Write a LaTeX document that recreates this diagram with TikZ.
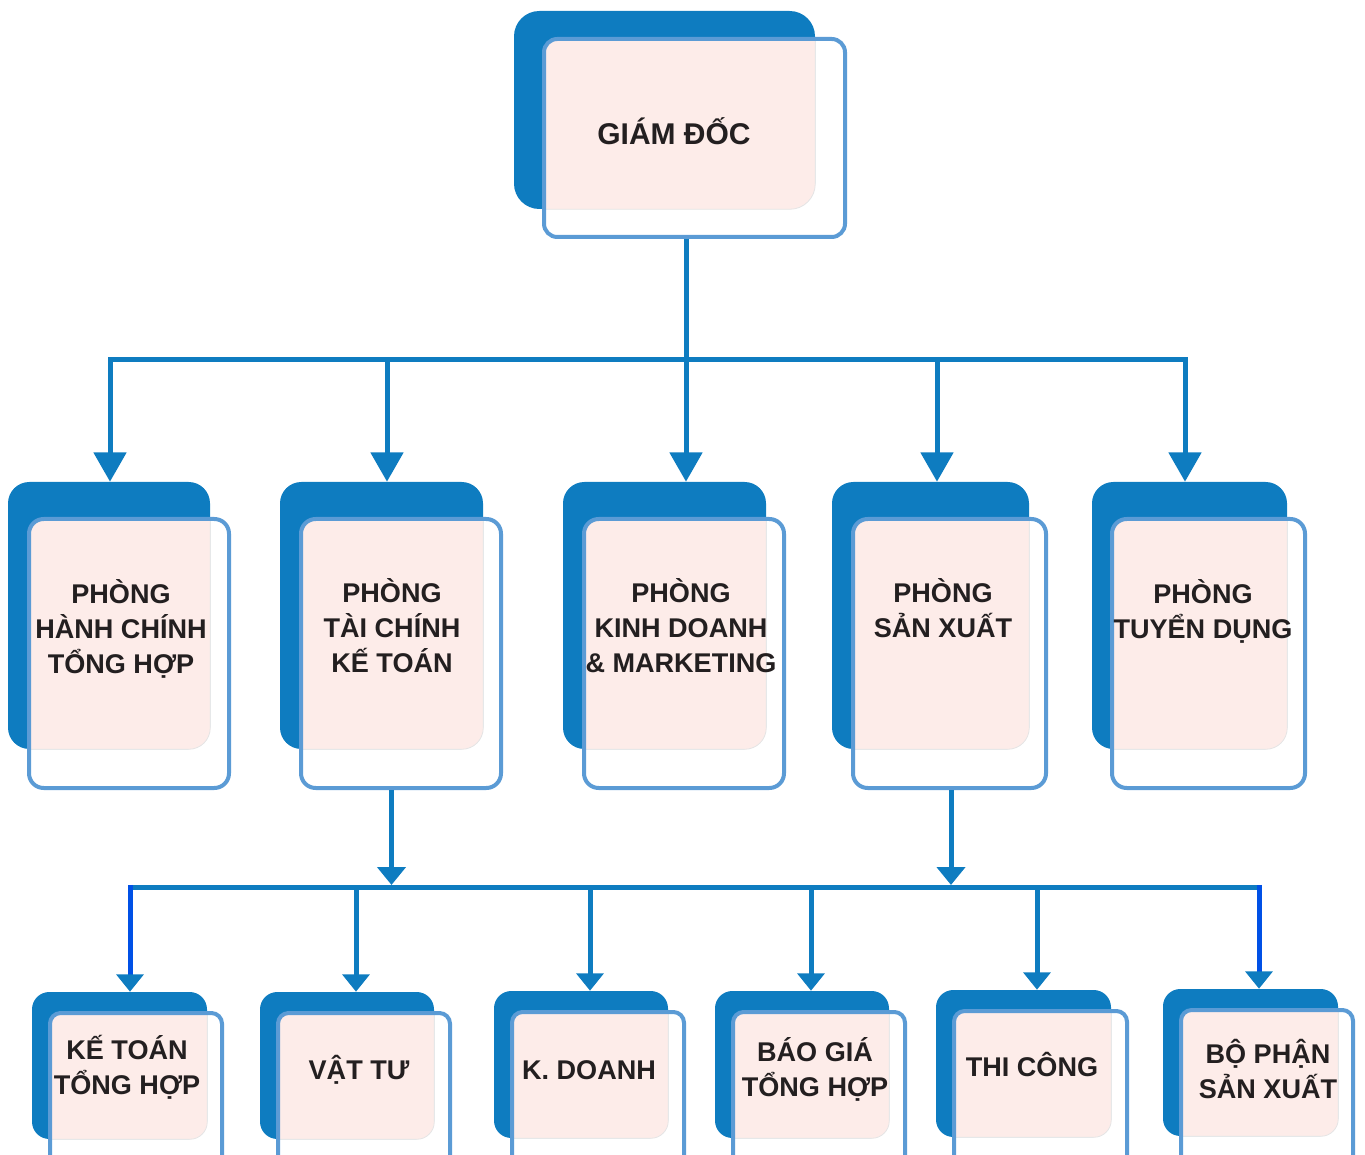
\documentclass[tikz,border=0pt]{standalone}
\usepackage{fontspec}
\setmainfont{Liberation Sans}
\usepackage{xcolor}
\usepackage{tikz}
\usetikzlibrary{arrows.meta,positioning,fit}
\definecolor{orgBlue}{RGB}{14,124,192}
\definecolor{orgBlueBright}{RGB}{0,80,230}
\definecolor{orgFrame}{RGB}{91,155,213}
\definecolor{orgPink}{RGB}{253,236,233}
\definecolor{orgText}{RGB}{35,31,32}
\tikzset{
  backcard/.style={fill=orgBlue, inner sep=0pt},
  framecard/.style={draw=orgFrame, line width=3pt, inner sep=0pt},
  cardtext/.style={text=orgText, font=\bfseries\fontsize{20.3}{26.25}\selectfont, align=center, inner sep=0pt},
  link/.style={draw=orgBlue, line width=3.75pt},
  bigtip/.style={-{Triangle[width=24pt,length=22pt]}},
  midtip/.style={-{Triangle[width=21pt,length=13.5pt]}},
  smalltip/.style={-{Triangle[width=20pt,length=13pt,color=orgBlue]}},
}
% card: name, back corners, frame corners, back radius, frame radius
\newcommand{\orgcard}[7]{%
  \node[backcard, rounded corners=#6, fit={#2 #3}] (#1-back) {};
  \begin{scope}
    \clip[rounded corners=#7] #4 rectangle #5;
    \fill[orgPink, draw=black!10, line width=0.6pt, rounded corners=#6] (#1-back.north west) rectangle (#1-back.south east);
  \end{scope}
  \node[framecard, rounded corners=#7, fit={#4 #5}] (#1) {};
}
\begin{document}
\begin{tikzpicture}[x=0.75pt,y=-0.75pt]
\useasboundingbox (0,0) rectangle (1365,1155);

% top
\orgcard{gd}{(514,11)}{(815,209)}{(544,39)}{(845,237)}{19pt}{10pt}
\node[cardtext, font=\bfseries\fontsize{22.5}{27}\selectfont] (gd-text) at (674,131) {GIÁM ĐỐC};

% departments
\orgcard{hc}{(8,482)}{(210,749)}{(29,519)}{(229,788)}{16pt}{11pt}
\orgcard{tc}{(280,482)}{(483,749)}{(301,519)}{(501,788)}{16pt}{11pt}
\orgcard{kd}{(563,482)}{(766,749)}{(584,519)}{(784,788)}{16pt}{11pt}
\orgcard{sx}{(832,482)}{(1029,749)}{(853,519)}{(1046,788)}{16pt}{11pt}
\orgcard{td}{(1092,482)}{(1287,749)}{(1112,519)}{(1305,788)}{16pt}{11pt}
\node[cardtext] (hc-text) at (121,629) {PHÒNG\\HÀNH CHÍNH\\TỔNG HỢP};
\node[cardtext] (tc-text) at (392,626) {PHÒNG\\TÀI CHÍNH\\KẾ TOÁN};
\node[cardtext] (kd-text) at (681,626) {PHÒNG\\KINH DOANH\\\& MARKETING};
\node[cardtext] (sx-text) at (943,608) {PHÒNG\\SẢN XUẤT};
\node[cardtext] (td-text) at (1203,611) {PHÒNG\\TUYỂN DỤNG};

% teams
\orgcard{kt}{(32,992)}{(207,1139)}{(50,1013)}{(222,1175)}{13pt}{8pt}
\orgcard{vt}{(260,992)}{(434,1139)}{(278,1013)}{(450,1175)}{13pt}{8pt}
\orgcard{kdo}{(494,991)}{(668,1138)}{(512,1012)}{(684,1175)}{13pt}{8pt}
\orgcard{bg}{(715,991)}{(889,1138)}{(733,1012)}{(905,1175)}{13pt}{8pt}
\orgcard{tcg}{(936,990)}{(1111,1137)}{(954,1011)}{(1127,1175)}{13pt}{8pt}
\orgcard{bp}{(1163,989)}{(1338,1136)}{(1181,1010)}{(1353,1175)}{13pt}{8pt}
\node[cardtext] (kt-text) at (127,1067) {KẾ TOÁN\\TỔNG HỢP};
\node[cardtext] (vt-text) at (359,1070) {VẬT TƯ};
\node[cardtext] (kdo-text) at (589,1070) {K. DOANH};
\node[cardtext] (bg-text) at (815,1069) {BÁO GIÁ\\TỔNG HỢP};
\node[cardtext] (tcg-text) at (1032,1065) {THI CÔNG};
\node[cardtext] (bp-text) at (1268,1069) {BỘ PHẬN\\SẢN XUẤT};

% links to departments
\coordinate (j-hc) at (110,360);
\coordinate (j-tc) at (387,360);
\coordinate (j-kd) at (686,360);
\coordinate (j-sx) at (937,360);
\coordinate (j-td) at (1185,360);
\draw[link] (gd.south -| j-kd) -- (j-kd);
\draw[link, line cap=rect] (j-hc) -- (j-td);
\foreach \n in {hc,tc,kd,sx,td}
  \draw[link, bigtip] (j-\n) -- (j-\n |- \n-back.north);

% links to teams
\coordinate (m-tc) at (391.5,885);
\coordinate (m-sx) at (951,885);
\draw[link, midtip] (tc.south -| m-tc) -- (m-tc);
\draw[link, midtip] (sx.south -| m-sx) -- (m-sx);
\coordinate (k-kt) at (130,887.5);
\coordinate (k-vt) at (356,887.5);
\coordinate (k-kdo) at (590,887.5);
\coordinate (k-bg) at (811,887.5);
\coordinate (k-tcg) at (1037,887.5);
\coordinate (k-bp) at (1259,887.5);
\draw[link, line cap=rect] (k-kt) -- (k-bp);
\foreach \n in {vt,kdo,bg,tcg}
  \draw[link, smalltip] (k-\n) -- (k-\n |- \n-back.north);
\foreach \n in {kt,bp}
  \draw[link, draw=orgBlueBright, smalltip] ([yshift=1.9pt]k-\n) -- (k-\n |- \n-back.north);
\end{tikzpicture}
\end{document}
